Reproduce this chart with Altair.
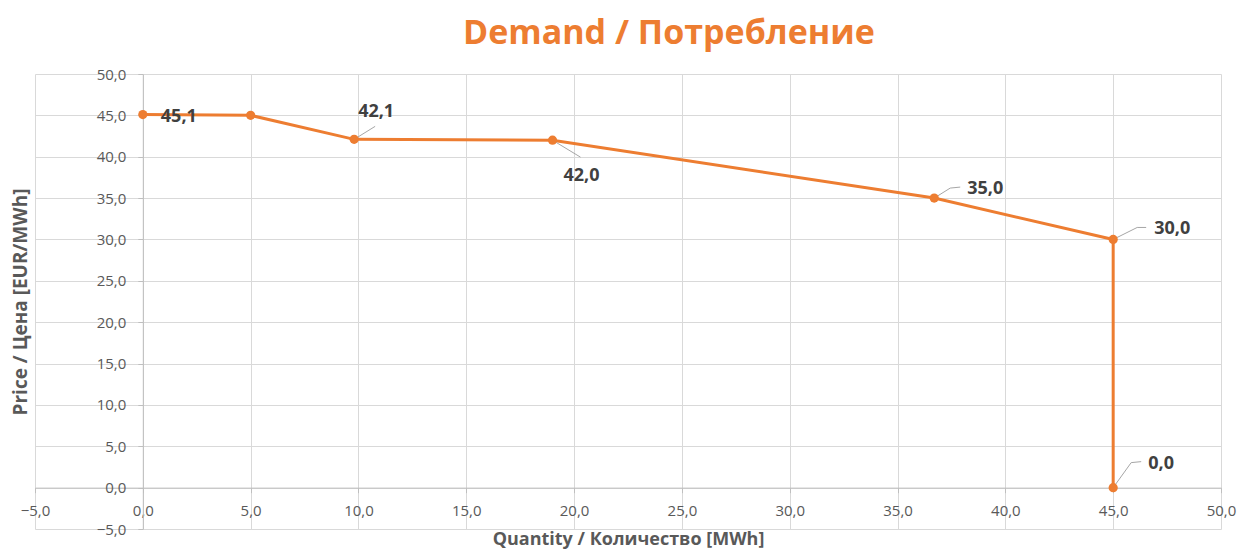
import altair as alt
import pandas as pd

# ---- data ----
quantity = [0.0, 5.0, 9.8, 19.0, 36.7, 45.0, 45.0]
price = [45.1, 45.0, 42.1, 42.0, 35.0, 30.0, 0.0]
labels = ["45,1", "", "42,1", "42,0", "35,0", "30,0", "0,0"]

x_ticks = [-5, 0, 5, 10, 15, 20, 25, 30, 35, 40, 45, 50]
y_ticks = [-5, 0, 5, 10, 15, 20, 25, 30, 35, 40, 45, 50]

# ---- styling / layout ----
W, H = 1186, 455
XMIN, XMAX, YMIN, YMAX = -5, 50, -5, 50
PX_X = W / (XMAX - XMIN)
PX_Y = H / (YMAX - YMIN)
ORANGE = "#ED7D31"
GREY = "#595959"
FONT = "Open Sans"

# label pixel offsets (dx, dy) per point, and leader-line pixel paths
label_dx = [36, 0, 22, 29, 51, 59, 48]
label_dy = [2, 0, -27, 36, -9, -10, -24]
leaders = {
    2: [(0, 0), (21, -13)],
    3: [(0, 0), (28, 17)],
    4: [(0, 0), (16, -10), (26, -11)],
    5: [(0, 0), (24, -12), (33, -12)],
    6: [(0, 0), (18, -25), (28, -26)],
}

df = pd.DataFrame({"q": quantity, "p": price, "idx": list(range(len(quantity)))})

lead_rows = []
for i, path in leaders.items():
    for k, (px, py) in enumerate(path):
        lead_rows.append({"id": i, "k": k,
                          "q": quantity[i] + px / PX_X,
                          "p": price[i] - py / PX_Y})
lead_df = pd.DataFrame(lead_rows)

xs = alt.Scale(domain=[XMIN, XMAX], nice=False, zero=False)
ys = alt.Scale(domain=[YMIN, YMAX], nice=False, zero=False)
lab_expr = "replace(format(datum.value, '.1f'), '.', ',')"

x_axis = alt.Axis(
    values=x_ticks, labelExpr=lab_expr, offset=-(0 - YMIN) * PX_Y,
    grid=True, gridColor="#D9D9D9", gridWidth=1,
    domainColor="#BFBFBF", tickColor="#BFBFBF", tickSize=5,
    labelPadding=11, labelFont=FONT, labelFontSize=15, labelColor=GREY,
    labelFlush=False, labelOverlap=False, labelBound=False,
    title="Quantity / Количество [MWh]", titleFont=FONT, titleFontSize=18,
    titleFontWeight="bold", titleColor=GREY,
    titleX=W / 2, titleY=57, titleBaseline="alphabetic", titleAnchor="middle",
)
y_axis = alt.Axis(
    values=y_ticks, labelExpr=lab_expr, offset=-(0 - XMIN) * PX_X,
    grid=True, gridColor="#D9D9D9", gridWidth=1,
    domainColor="#BFBFBF", tickColor="#BFBFBF", tickSize=5,
    labelPadding=12, labelFont=FONT, labelFontSize=15, labelColor=GREY,
    labelFlush=False, labelOverlap=False, labelBound=False,
    title="Price / Цена [EUR/MWh]", titleFont=FONT, titleFontSize=19,
    titleFontWeight="bold", titleColor=GREY,
    titleX=-122, titleY=H / 2, titleAngle=270, titleBaseline="middle",
    titleAlign="center",
)

base = alt.Chart(df)

line = base.mark_line(color=ORANGE, strokeWidth=3).encode(
    x=alt.X("q:Q", scale=xs, axis=x_axis),
    y=alt.Y("p:Q", scale=ys, axis=y_axis),
    order="idx:O",
)
pts = base.mark_circle(color=ORANGE, size=85, opacity=1).encode(
    x=alt.X("q:Q", scale=xs), y=alt.Y("p:Q", scale=ys)
)

leader = alt.Chart(lead_df).mark_line(color="#A6A6A6", strokeWidth=1).encode(
    x=alt.X("q:Q", scale=xs), y=alt.Y("p:Q", scale=ys),
    detail="id:N", order="k:O",
)

texts = []
for i, lab in enumerate(labels):
    if not lab:
        continue
    t = alt.Chart(pd.DataFrame({"q": [quantity[i]], "p": [price[i]], "t": [lab]})).mark_text(
        dx=label_dx[i], dy=label_dy[i], font=FONT, fontSize=18, fontWeight="bold",
        color="#404040", align="center", baseline="middle",
    ).encode(x=alt.X("q:Q", scale=xs), y=alt.Y("p:Q", scale=ys), text="t:N")
    texts.append(t)

chart = alt.layer(line, leader, pts, *texts).properties(
    width=W, height=H,
    title=alt.TitleParams(
        "Demand / Потребление", font=FONT, fontSize=34, fontWeight="bold",
        color=ORANGE, anchor="middle", frame="group", dx=41, offset=16,
    ),
    autosize=alt.AutoSizeParams(type="none"),
    padding={"left": 27, "top": 66, "right": 18, "bottom": 23},
).configure_view(stroke=None)

chart.save("out.html", embed_options={"renderer": "svg", "actions": False})
